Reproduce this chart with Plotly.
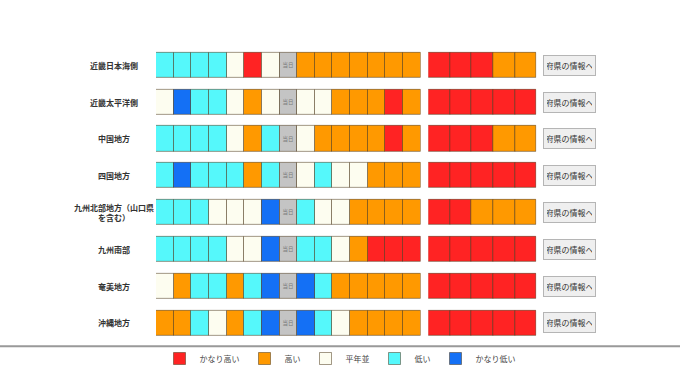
import plotly.graph_objects as go

# ---- data ----
regions = ["近畿日本海側", "近畿太平洋側", "中国地方", "四国地方",
           "九州北部地方（山口県を含む）", "九州南部", "奄美地方", "沖縄地方"]
region_labels = ["近畿日本海側", "近畿太平洋側", "中国地方", "四国地方",
                 "九州北部地方（山口県<br>を含む）", "九州南部", "奄美地方", "沖縄地方"]

# codes: 5=かなり高い 4=高い 3=平年並 2=低い 1=かなり低い 0=当日
daily_codes = [
    [2, 2, 2, 2, 3, 5, 3, 0, 4, 4, 4, 4, 4, 4, 4],
    [3, 1, 2, 2, 3, 4, 3, 0, 3, 3, 4, 4, 4, 5, 4],
    [2, 2, 2, 2, 3, 4, 2, 0, 3, 4, 4, 4, 4, 5, 4],
    [2, 1, 2, 2, 2, 4, 2, 0, 3, 2, 3, 3, 4, 4, 4],
    [2, 2, 2, 3, 3, 3, 1, 0, 2, 3, 3, 4, 4, 4, 4],
    [2, 2, 2, 2, 3, 3, 1, 0, 2, 2, 3, 4, 5, 5, 5],
    [3, 4, 2, 2, 4, 2, 1, 0, 1, 2, 4, 4, 4, 4, 4],
    [4, 4, 2, 3, 4, 2, 1, 0, 1, 2, 3, 4, 4, 4, 4],
]
period_codes = [
    [5, 5, 5, 4, 4],
    [5, 5, 5, 5, 5],
    [5, 5, 5, 4, 4],
    [5, 5, 5, 5, 5],
    [5, 5, 4, 4, 4],
    [5, 5, 5, 5, 5],
    [5, 5, 5, 5, 5],
    [5, 5, 5, 5, 5],
]
category_names = {5: "かなり高い", 4: "高い", 3: "平年並", 2: "低い", 1: "かなり低い", 0: "当日"}
category_colors = {5: "#ff2323", 4: "#ff9900", 3: "#fdfdf0", 2: "#55f8fb", 1: "#1470f5", 0: "#c4c4c4"}
today_label = "当日"
button_label = "府県の情報へ"

FONT = "Noto Sans CJK JP, Noto Sans, sans-serif"
W, H = 680, 373
line_col = "rgba(70,50,20,0.5)"

fig = go.Figure()

def add_group(codes_rows, xaxis, code, showlegend):
    ys, bases, text = [], [], []
    for r, row in enumerate(codes_rows):
        for i, c in enumerate(row):
            if c == code:
                ys.append(regions[r])
                bases.append(i)
                text.append(today_label if code == 0 else "")
    if not ys and not showlegend:
        return
    fig.add_trace(go.Bar(
        orientation="h", y=ys, x=[1] * len(ys), base=bases,
        xaxis=xaxis, yaxis="y", width=0.68,
        name=category_names[code], legendgroup=str(code), showlegend=showlegend,
        marker=dict(color=category_colors[code], line=dict(color=line_col, width=1)),
        text=text if code == 0 else None,
        textposition="inside" if code == 0 else None,
        insidetextanchor="middle", textangle=0,
        insidetextfont=dict(size=7, color="#7a7a7a", family=FONT),
        hoverinfo="skip",
    ))

for code in [5, 4, 3, 2, 1]:
    add_group(daily_codes, "x", code, True)
    add_group(period_codes, "x2", code, False)
add_group(daily_codes, "x", 0, False)

# region labels and buttons
for reg, lab in zip(regions, region_labels):
    fig.add_annotation(x=114 / W, xref="paper", y=reg, yref="y", text="<b>" + lab + "</b>",
                       showarrow=False, xanchor="center", yanchor="middle",
                       font=dict(size=8, color="#333333", family=FONT))
    fig.add_annotation(x=569.5 / W, xref="paper", y=reg, yref="y", text=button_label,
                       showarrow=False, xanchor="center", yanchor="middle",
                       bgcolor="#efefef", bordercolor="#b5b5b5", borderwidth=1,
                       borderpad=3, width=45, height=13,
                       font=dict(size=8, color="#333333", family=FONT))

# separator line above legend
fig.add_shape(type="line", xref="paper", yref="paper", x0=0, x1=1,
              y0=(H - 349) / H, y1=(H - 349) / H, line=dict(color="#999999", width=2))

row_pitch = 37.1
top = 65.8 - row_pitch / 2
bottom = top + row_pitch * len(regions)

fig.update_layout(
    width=W, height=H, margin=dict(l=0, r=0, t=0, b=0),
    paper_bgcolor="white", plot_bgcolor="white",
    barmode="overlay", bargap=0,
    font=dict(family=FONT),
    xaxis=dict(domain=[156 / W, 420.7 / W], range=[0, 15], visible=False, fixedrange=True),
    xaxis2=dict(domain=[428.3 / W, 536.5 / W], range=[0, 5], visible=False, anchor="y", fixedrange=True),
    yaxis=dict(domain=[(H - bottom) / H, (H - top) / H], type="category",
               categoryorder="array", categoryarray=regions,
               range=[len(regions) - 0.5, -0.5], visible=False, fixedrange=True),
    legend=dict(orientation="h", x=0.5, xanchor="center", y=(H - 361.5) / H, yanchor="middle",
                bgcolor="rgba(0,0,0,0)", borderwidth=0,
                font=dict(size=8, color="#444444", family=FONT), traceorder="normal",
                itemclick=False, itemdoubleclick=False, itemwidth=30),
    showlegend=True,
)

fig.write_html("out.html", config={"displayModeBar": False},
               post_script="document.body.style.margin='0';document.body.style.overflow='hidden';")
